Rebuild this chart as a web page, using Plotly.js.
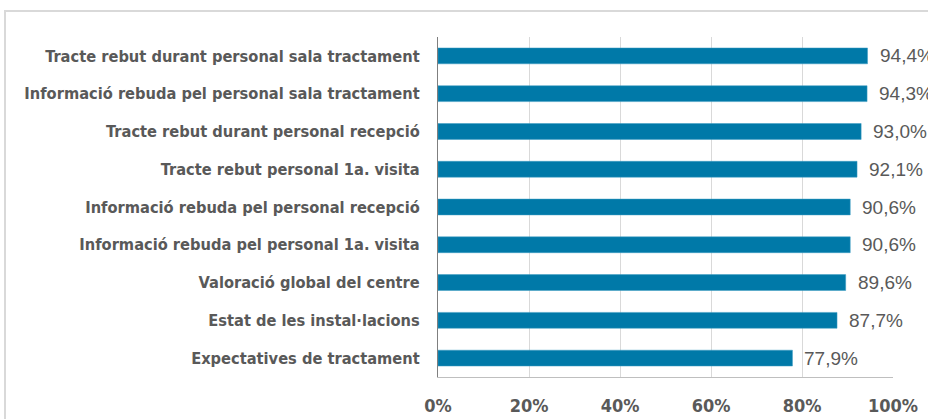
<!DOCTYPE html>
<html>
<head>
<meta charset="utf-8">
<script src="https://cdn.plot.ly/plotly-3.0.1.min.js"></script>
<style>
html,body{margin:0;padding:0;background:#fff;}
#frame{position:absolute;left:4px;top:10px;width:1000px;height:1000px;border:2px solid #d9d9d9;box-sizing:border-box;}
#chart{position:absolute;left:0;top:0;width:928px;height:419px;}
</style>
</head>
<body>
<div id="frame"></div>
<div id="chart"></div>
<script>
const categories = [
  "Tracte rebut durant personal sala tractament",
  "Informació rebuda pel personal sala tractament",
  "Tracte rebut durant personal recepció",
  "Tracte rebut personal 1a. visita",
  "Informació rebuda pel personal recepció",
  "Informació rebuda pel personal 1a. visita",
  "Valoració global del centre",
  "Estat de les instal·lacions",
  "Expectatives de tractament"
];
const values = [94.4, 94.3, 93.0, 92.1, 90.6, 90.6, 89.6, 87.7, 77.9];
const tickVals = [0, 20, 40, 60, 80, 100];
const tickText = ["0%", "20%", "40%", "60%", "80%", "100%"];

const fmt = v => v.toFixed(1).replace('.', ',') + '%';
const labelFont = "'DejaVu Sans Condensed', 'Liberation Sans Narrow', Arial, sans-serif";

const trace = {
  type: 'bar',
  orientation: 'h',
  y: categories,
  x: values,
  marker: {color: '#0079a8', line: {color: '#3d9cc2', width: 0.5}},
  width: 0.42,
  hoverinfo: 'none',
  cliponaxis: false
};

const annotations = values.map((v, i) => ({
  x: v, y: categories[i], xref: 'x', yref: 'y',
  text: fmt(v), showarrow: false, xanchor: 'left', xshift: 10,
  font: {family: "'Liberation Sans', Arial, sans-serif", size: 19, color: '#595959'}
}));

const layout = {
  width: 928, height: 419,
  margin: {l: 438, r: 35, t: 37, b: 42},
  paper_bgcolor: 'rgba(0,0,0,0)',
  plot_bgcolor: 'rgba(0,0,0,0)',
  showlegend: false,
  xaxis: {
    range: [0, 100], tickvals: tickVals, ticktext: tickText,
    showgrid: true, gridcolor: '#d9d9d9', gridwidth: 1,
    zeroline: false, showline: true, linecolor: '#bfbfbf', linewidth: 1, mirror: false,
    ticks: '', ticklen: 0, ticklabelstandoff: 12,
    tickfont: {family: labelFont, size: 18, color: '#595959', weight: 'bold'},
    fixedrange: true
  },
  yaxis: {
    autorange: 'reversed', type: 'category',
    showgrid: false, zeroline: false,
    showline: true, linecolor: '#7f7f7f', linewidth: 1,
    ticks: '', ticklabelstandoff: 14,
    tickfont: {family: labelFont, size: 16.3, color: '#595959', weight: 'bold'},
    fixedrange: true
  },
  annotations: annotations
};

Plotly.newPlot('chart', [trace], layout, {staticPlot: true, displayModeBar: false});
</script>
</body>
</html>
